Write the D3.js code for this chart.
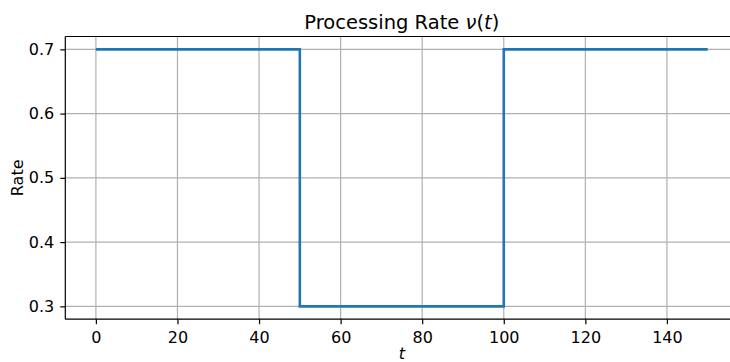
<!DOCTYPE html>
<html>
<head>
<meta charset="utf-8">
<script src="https://cdn.jsdelivr.net/npm/d3@7"></script>
<style>
  body { margin: 0; background: #fff; }
  svg { display: block; font-family: "DejaVu Sans", sans-serif; }
</style>
</head>
<body>
<div class="chart"></div>
<script>
// step function nu(t): value holds from t until next point
let times = [0, 50, 100, 150];
let rates = [0.7, 0.3, 0.7, 0.7];
let xTicks = [0, 20, 40, 60, 80, 100, 120, 140];
let yTicks = [0.3, 0.4, 0.5, 0.6, 0.7];

let W = 730, H = 362;
let margin = { top: 36.5, right: -8.3, bottom: 42.8, left: 65.3 };
let width  = W - margin.left - margin.right;
let height = H - margin.top - margin.bottom;

let svg = d3.select(".chart")
    .append("svg")
        .attr("width", W)
        .attr("height", H);

let g = svg.append("g")
    .attr("transform", `translate(${margin.left}, ${margin.top})`);

let xScale = d3.scaleLinear().domain([-7.5, 157.5]).range([0, width]);
let yScale = d3.scaleLinear().domain([0.28, 0.72]).range([height, 0]);

// grid
g.append("g").selectAll("line")
    .data(xTicks)
    .enter().append("line")
    .attr("x1", d => xScale(d)).attr("x2", d => xScale(d))
    .attr("y1", 0).attr("y2", height)
    .attr("stroke", "#b0b0b0").attr("stroke-width", 1.2);
g.append("g").selectAll("line")
    .data(yTicks)
    .enter().append("line")
    .attr("x1", 0).attr("x2", width)
    .attr("y1", d => yScale(d)).attr("y2", d => yScale(d))
    .attr("stroke", "#b0b0b0").attr("stroke-width", 1.2);

// the step line
let pts = times.map((t, i) => ({ t: t, r: rates[i] }));
let line = d3.line()
    .x(d => xScale(d.t))
    .y(d => yScale(d.r))
    .curve(d3.curveStepAfter);
g.append("path")
    .datum(pts)
    .attr("d", line)
    .attr("fill", "none")
    .attr("stroke", "#1f77b4")
    .attr("stroke-width", 2.6);

// axes
let xAxis = d3.axisBottom(xScale).tickValues(xTicks).tickSize(5).tickPadding(7)
    .tickFormat(d3.format("d"));
let yAxis = d3.axisLeft(yScale).tickValues(yTicks).tickSize(5).tickPadding(6)
    .tickFormat(d3.format(".1f"));

let gx = g.append("g")
    .attr("transform", `translate(0, ${height})`)
    .call(xAxis);
let gy = g.append("g").call(yAxis);

[gx, gy].forEach(a => {
    a.attr("font-size", 16).attr("font-family", "DejaVu Sans");
    a.select(".domain").attr("stroke", "#000").attr("stroke-width", 1.2);
    a.selectAll(".tick line").attr("stroke", "#000").attr("stroke-width", 1.2);
    a.selectAll(".tick text").attr("fill", "#000");
});
gx.select(".domain").attr("d", `M0,0H${width}`);
gy.select(".domain").attr("d", `M0,0V${height}`);

// top spine
g.append("line")
    .attr("x1", 0).attr("x2", width)
    .attr("y1", 0).attr("y2", 0)
    .attr("stroke", "#000").attr("stroke-width", 1.2);

// title
let title = svg.append("text")
    .attr("x", margin.left + width / 2)
    .attr("y", 28.5)
    .attr("text-anchor", "middle")
    .style("font-size", "19.5px");
title.append("tspan").text("Processing Rate ");
title.append("tspan").style("font-style", "italic").text("ν");
title.append("tspan").text("(");
title.append("tspan").style("font-style", "italic").text("t");
title.append("tspan").text(")");

// axis labels
svg.append("text")
    .attr("x", margin.left + width / 2)
    .attr("y", 358.5)
    .attr("text-anchor", "middle")
    .style("font-size", "16px")
    .style("font-style", "italic")
    .text("t");

svg.append("text")
    .attr("transform", `translate(23, ${margin.top + height / 2}) rotate(-90)`)
    .attr("text-anchor", "middle")
    .style("font-size", "16px")
    .text("Rate");
</script>
</body>
</html>
